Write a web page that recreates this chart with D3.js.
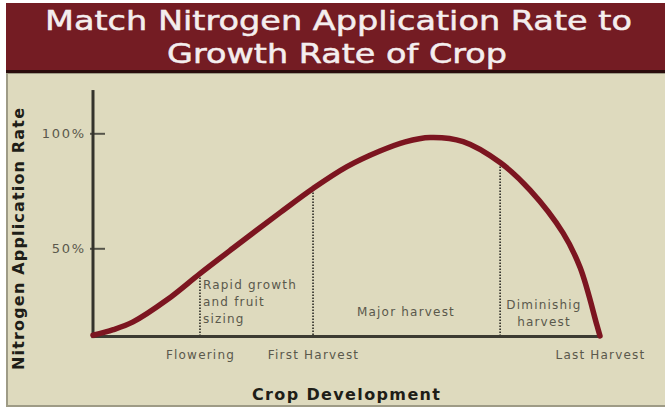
<!DOCTYPE html>
<html>
<head>
<meta charset="utf-8">
<script src="https://cdn.jsdelivr.net/npm/d3@7"></script>
<style>
    body { margin: 0; background: #fff; }
    svg { display: block; }
    .small { font-family: "DejaVu Sans", sans-serif; font-size: 12px; fill: #5a584c; letter-spacing: 1.2px; }
    .ttl { font-family: "DejaVu Sans", sans-serif; font-weight: bold; font-size: 16px; fill: #1e1e18; }
</style>
</head>
<body>
<div id="chart"></div>
<script>
// chart values
const titleLines = ["Match Nitrogen Application Rate to", "Growth Rate of Crop"];
const devPoints = [0, 4.0, 7.9, 14.6, 21.1, 27.6, 36.9, 43.4, 50.1, 56.6, 61.6, 66.5, 73.0, 80.3, 86.2, 92.7, 96.1, 99.4, 100];
const nRate = [12.2, 14.6, 18.0, 27.6, 39.0, 50.0, 65.5, 76.0, 85.5, 92.3, 96.3, 98.2, 96.4, 87.3, 75.3, 56.7, 41.5, 16.5, 11.9];
const yTicks = [50, 100];
const stageNames = ["Flowering", "First Harvest", "Diminishing", "Last Harvest"];
const stageDev = [21.1, 43.4, 80.3, 100];
const stageRate = [39.0, 76.0, 87.3, 11.9];
const labelledStages = ["Flowering", "First Harvest", "Last Harvest"];
const dottedStages = ["Flowering", "First Harvest", "Diminishing"];
const regionNames = [["Rapid growth", "and fruit", "sizing"], ["Major harvest"], ["Diminishig", "harvest"]];

const width = 665;
const height = 408;
const baseRate = 11.6;
const topRate = 118.8;

const svg = d3.select("#chart").append("svg")
    .attr("width", width)
    .attr("height", height);

// panel frame
svg.append("rect").attr("x", 6).attr("y", 72).attr("width", width - 6).attr("height", 335).attr("fill", "#9e9b86");
svg.append("rect").attr("x", 8).attr("y", 74).attr("width", width - 8).attr("height", 331).attr("fill", "#dedabe");
svg.append("rect").attr("x", 6).attr("y", 3).attr("width", width - 6).attr("height", 68).attr("fill", "#741c23");
svg.append("rect").attr("x", 6).attr("y", 70).attr("width", width - 6).attr("height", 3).attr("fill", "#2a0c0c");

// title
svg.selectAll(".title")
    .data(titleLines)
    .enter().append("text")
    .attr("class", "title")
    .attr("x", (d, i) => i === 0 ? 338.5 : 337)
    .attr("y", (d, i) => i === 0 ? 30 : 63)
    .attr("text-anchor", "middle")
    .attr("textLength", (d, i) => i === 0 ? 587 : 340)
    .attr("lengthAdjust", "spacingAndGlyphs")
    .style("font-family", "'DejaVu Sans', sans-serif")
    .style("font-size", "27px")
    .style("fill", "#f4eeee")
    .style("stroke", "#f4eeee")
    .style("stroke-width", 0.5)
    .text(d => d);

const x = d3.scaleLinear().domain([0, 100]).range([93, 600]);
const y = d3.scaleLinear().domain([0, 100]).range([363.3, 133.3]);

// y axis ticks
const yAxis = d3.axisLeft(y)
    .tickValues(yTicks)
    .tickSize(-12)
    .tickPadding(7)
    .tickFormat(d => d + "%");

const yg = svg.append("g")
    .attr("transform", `translate(${x(0)},0)`)
    .call(yAxis);
yg.select(".domain").remove();
yg.selectAll(".tick line").attr("x1", -3).attr("stroke", "#55544a").attr("stroke-width", 2);
yg.selectAll(".tick text")
    .attr("class", "small")
    .style("font-size", "13px")
    .style("letter-spacing", "1.8px")
    .attr("font-family", null)
    .attr("font-size", null);

// x axis labels
const stageIdx = labelledStages.map(s => stageNames.indexOf(s));
const xAxis = d3.axisBottom(x)
    .tickValues(stageIdx.map(i => stageDev[i]))
    .tickSize(0)
    .tickPadding(14)
    .tickFormat((d, i) => labelledStages[i]);

const xg = svg.append("g")
    .attr("transform", `translate(0,${y(baseRate)})`)
    .call(xAxis);
xg.select(".domain").remove();
xg.selectAll(".tick text")
    .attr("class", "small")
    .attr("font-family", null)
    .attr("font-size", null);

// dotted stage lines
svg.selectAll(".stage")
    .data(dottedStages)
    .enter().append("line")
    .attr("class", "stage")
    .attr("x1", d => x(stageDev[stageNames.indexOf(d)]))
    .attr("x2", d => x(stageDev[stageNames.indexOf(d)]))
    .attr("y1", d => y(stageRate[stageNames.indexOf(d)]) + 4)
    .attr("y2", y(baseRate))
    .attr("stroke", "#2a2a24")
    .attr("stroke-width", 1.6)
    .attr("stroke-dasharray", "1.5,1.5");

// axis lines
svg.append("line")
    .attr("x1", x(0)).attr("x2", x(0))
    .attr("y1", y(topRate)).attr("y2", y(baseRate) + 1.5)
    .attr("stroke", "#34332c").attr("stroke-width", 3);
svg.append("line")
    .attr("x1", x(0)).attr("x2", x(100))
    .attr("y1", y(baseRate)).attr("y2", y(baseRate))
    .attr("stroke", "#3c3b32").attr("stroke-width", 3);

// curve
const line = d3.line()
    .x((d, i) => x(devPoints[i]))
    .y(d => y(d))
    .curve(d3.curveCatmullRom.alpha(0.5));

svg.append("path")
    .datum(nRate)
    .attr("d", line)
    .attr("fill", "none")
    .attr("stroke", "#7c1520")
    .attr("stroke-width", 5.5)
    .attr("stroke-linecap", "round");

// region labels
const regionPos = [
    { x: x(stageDev[0]) + 3, y: 289, anchor: "start" },
    { x: 406, y: 316, anchor: "middle" },
    { x: 544, y: 309, anchor: "middle" }
];
regionNames.forEach((lines, r) => {
    const t = svg.append("text")
        .attr("class", "small")
        .attr("text-anchor", regionPos[r].anchor);
    lines.forEach((s, k) => {
        t.append("tspan")
            .attr("x", regionPos[r].x)
            .attr("y", regionPos[r].y + k * 17)
            .text(s);
    });
});

// axis titles
svg.append("text")
    .attr("class", "ttl")
    .attr("x", 346)
    .attr("y", 400)
    .attr("text-anchor", "middle")
    .attr("textLength", 188)
    .attr("lengthAdjust", "spacing")
    .text("Crop Development");

svg.append("text")
    .attr("class", "ttl")
    .attr("transform", "translate(24,239) rotate(-90)")
    .attr("text-anchor", "middle")
    .attr("textLength", 262)
    .attr("lengthAdjust", "spacing")
    .text("Nitrogen Application Rate");
</script>
</body>
</html>
